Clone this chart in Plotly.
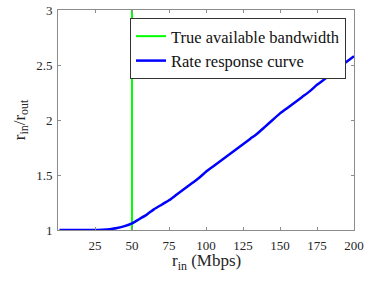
import plotly.graph_objects as go

# Data
r_in = [1, 5, 10, 15, 20, 25, 30, 35, 40, 45, 50, 55, 60, 65, 70, 75, 80, 85, 90, 95,
        100, 105, 110, 115, 120, 125, 130, 135, 140, 145, 150, 155, 160, 165, 170, 175,
        180, 185, 190, 195, 200]
ratio = [1.0, 1.0, 1.0, 1.0, 1.0, 1.0, 1.003, 1.008, 1.018, 1.035, 1.06, 1.10, 1.14, 1.19, 1.23, 1.27,
         1.32, 1.37, 1.42, 1.47, 1.53, 1.58, 1.63, 1.68, 1.73, 1.78, 1.83, 1.88, 1.94, 2.00,
         2.06, 2.11, 2.16, 2.21, 2.26, 2.32, 2.37, 2.42, 2.48, 2.53, 2.58]
bw_x = [50, 50]
bw_y = [1, 3]
x_ticks = [25, 50, 75, 100, 125, 150, 175, 200]
y_ticks = [1, 1.5, 2, 2.5, 3]

FONT = "Liberation Serif"
AX = "#8c8c8c"

fig = go.Figure()
fig.add_trace(go.Scatter(x=bw_x, y=bw_y, mode="lines", name="True available bandwidth",
                         line=dict(color="#00ff00", width=2)))
fig.add_trace(go.Scatter(x=r_in, y=ratio, mode="lines", name="Rate response curve",
                         line=dict(color="#0000ff", width=2.5, shape="spline", smoothing=0.6)))

axis_common = dict(showline=True, linecolor=AX, linewidth=1, mirror="ticks",
                   ticks="inside", ticklen=3, tickcolor=AX, showgrid=False, zeroline=False,
                   automargin=False,
                   tickfont=dict(family=FONT, size=13, color="#262626"))
fig.update_xaxes(range=[0, 200], tickvals=x_ticks, ticktext=[str(v) for v in x_ticks],
                 ticklabelstandoff=3,
                 **axis_common)
fig.update_yaxes(range=[1, 3], tickvals=y_ticks, ticktext=["1", "1.5", "2", "2.5", "3"],
                 ticklabelstandoff=2,
                 title=dict(text="r<sub>in</sub>/r<sub>out</sub>", font=dict(family=FONT, size=17, color="#262626"), standoff=6),
                 **axis_common)
fig.add_annotation(text="r<sub>in</sub> (Mbps)", xref="paper", yref="paper",
                   x=0.5, y=-0.085, xanchor="center", yanchor="top", showarrow=False,
                   font=dict(family=FONT, size=17, color="#262626"))
fig.update_layout(
    width=382, height=283,
    margin=dict(l=58, r=28, t=10, b=53),
    paper_bgcolor="white", plot_bgcolor="white",
    font=dict(family=FONT),
    legend=dict(x=0.973, y=0.964, xanchor="right", yanchor="top",
                bgcolor="white", bordercolor="#333", borderwidth=1,
                font=dict(family=FONT, size=16.5, color="#111"),
                tracegroupgap=0, itemwidth=30),
    showlegend=True,
)
fig.write_html("out.html", config={"displayModeBar": False},
               post_script="document.body.style.margin='0';document.body.style.overflow='hidden';")
